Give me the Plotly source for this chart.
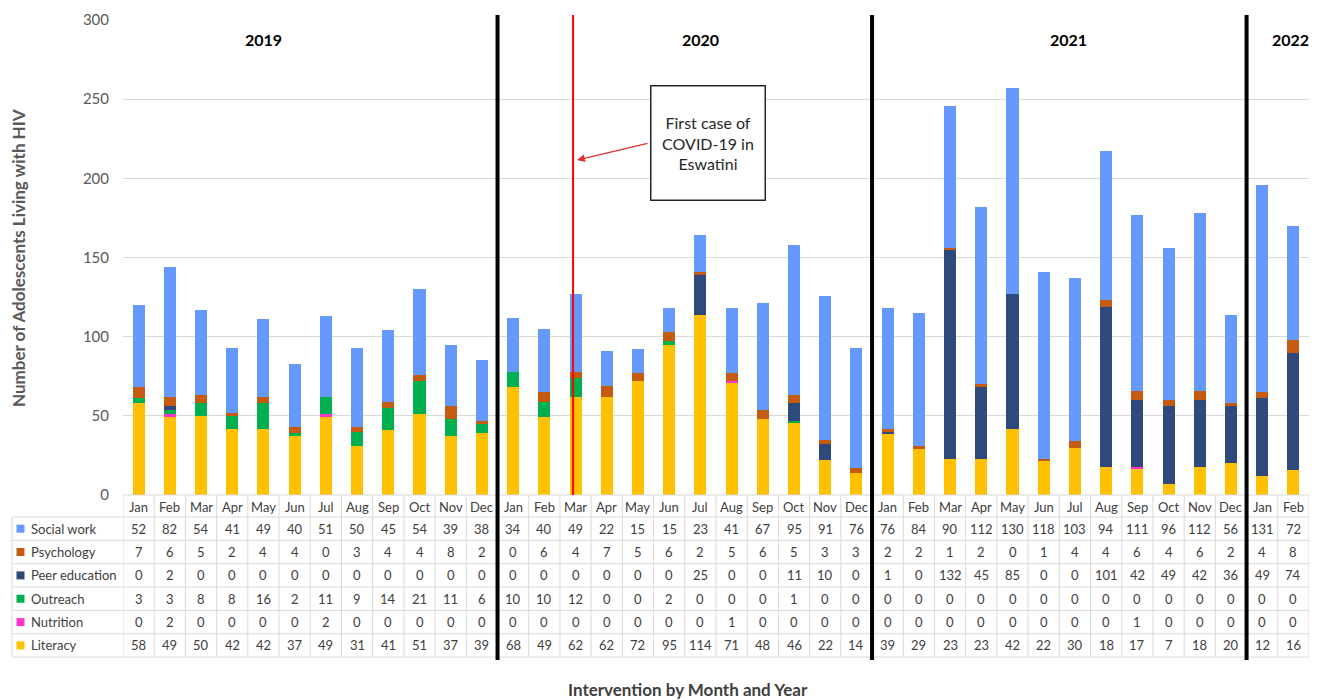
import plotly.graph_objects as go

# ---- data -------------------------------------------------------------
month_labels = (["Jan", "Feb", "Mar", "Apr", "May", "Jun",
                 "Jul", "Aug", "Sep", "Oct", "Nov", "Dec"] * 3 + ["Jan", "Feb"])
years = ["2019", "2020", "2021", "2022"]

social_work = [52, 82, 54, 41, 49, 40, 51, 50, 45, 54, 39, 38,
               34, 40, 49, 22, 15, 15, 23, 41, 67, 95, 91, 76,
               76, 84, 90, 112, 130, 118, 103, 94, 111, 96, 112, 56,
               131, 72]
psychology = [7, 6, 5, 2, 4, 4, 0, 3, 4, 4, 8, 2,
              0, 6, 4, 7, 5, 6, 2, 5, 6, 5, 3, 3,
              2, 2, 1, 2, 0, 1, 4, 4, 6, 4, 6, 2,
              4, 8]
peer_education = [0, 2, 0, 0, 0, 0, 0, 0, 0, 0, 0, 0,
                  0, 0, 0, 0, 0, 0, 25, 0, 0, 11, 10, 0,
                  1, 0, 132, 45, 85, 0, 0, 101, 42, 49, 42, 36,
                  49, 74]
outreach = [3, 3, 8, 8, 16, 2, 11, 9, 14, 21, 11, 6,
            10, 10, 12, 0, 0, 2, 0, 0, 0, 1, 0, 0,
            0, 0, 0, 0, 0, 0, 0, 0, 0, 0, 0, 0,
            0, 0]
nutrition = [0, 2, 0, 0, 0, 0, 2, 0, 0, 0, 0, 0,
             0, 0, 0, 0, 0, 0, 0, 1, 0, 0, 0, 0,
             0, 0, 0, 0, 0, 0, 0, 0, 1, 0, 0, 0,
             0, 0]
literacy = [58, 49, 50, 42, 42, 37, 49, 31, 41, 51, 37, 39,
            68, 49, 62, 62, 72, 95, 114, 71, 48, 46, 22, 14,
            39, 29, 23, 23, 42, 22, 30, 18, 17, 7, 18, 20,
            12, 16]

# stacking order, bottom to top
series = [
    ("Literacy", literacy, "#FFC000"),
    ("Nutrition", nutrition, "#FF33CC"),
    ("Outreach", outreach, "#00B050"),
    ("Peer education", peer_education, "#2E4A7D"),
    ("Psychology", psychology, "#C55A11"),
    ("Social work", social_work, "#6699FF"),
]

FONT = "Lato, 'Open Sans', sans-serif"
TXT = "#404040"
GRID = "#D9D9D9"

# ---- figure geometry (pixels) -----------------------------------------
W, H = 1320, 700
PL, PR, PT, PB = 123, 11, 20, 205          # plot area margins
plot_h = H - PT - PB


def py(px):
    """pixel row -> paper y"""
    return (H - PB - px) / plot_h


def pxp(px):
    """pixel column -> paper x"""
    return (px - PL) / (W - PL - PR)


n = len(month_labels)
xs = list(range(n))

fig = go.Figure()
for name, vals, col in series:
    fig.add_trace(go.Bar(x=xs, y=vals, name=name, marker_color=col,
                         marker_line_width=0, showlegend=False))

shapes = []
annotations = []


def label(**kw):
    kw.setdefault("showarrow", False)
    kw.setdefault("xanchor", "center")
    kw.setdefault("yanchor", "middle")
    annotations.append(kw)


# ---- data table below the plot -----------------------------------------
table_top = H - PB            # 495
header_bot = 517
row_h = 23.35
rows_order = [("Social work", social_work, "#6699FF"),
              ("Psychology", psychology, "#C55A11"),
              ("Peer education", peer_education, "#2E4A7D"),
              ("Outreach", outreach, "#00B050"),
              ("Nutrition", nutrition, "#FF33CC"),
              ("Literacy", literacy, "#FFC000")]
table_bot = header_bot + row_h * len(rows_order)

# horizontal rules
shapes.append(dict(type="line", xref="x", yref="paper", x0=-0.5, x1=n - 0.5,
                   y0=py(table_top), y1=py(table_top),
                   line=dict(color=GRID, width=1)))
for r in range(len(rows_order) + 1):
    yy = py(header_bot + r * row_h)
    shapes.append(dict(type="line", xref="paper", yref="paper",
                       x0=pxp(12), x1=1, y0=yy, y1=yy,
                       line=dict(color=GRID, width=1)))
# vertical rules
for k in range(n + 1):
    shapes.append(dict(type="line", xref="x", yref="paper",
                       x0=k - 0.5, x1=k - 0.5,
                       y0=py(table_top), y1=py(table_bot),
                       line=dict(color=GRID, width=1)))
shapes.append(dict(type="line", xref="paper", yref="paper",
                   x0=pxp(12), x1=pxp(12), y0=py(header_bot), y1=py(table_bot),
                   line=dict(color=GRID, width=1)))

# header month labels
for i, m in enumerate(month_labels):
    label(x=i, y=py((table_top + header_bot) / 2 + 1), xref="x", yref="paper",
          text=m, font=dict(family=FONT, size=13, color=TXT))

# rows
for r, (name, vals, col) in enumerate(rows_order):
    yc = header_bot + row_h * (r + 0.5)
    shapes.append(dict(type="rect", xref="paper", yref="paper",
                       x0=pxp(16.5), x1=pxp(24.5),
                       y0=py(yc - 4), y1=py(yc + 4),
                       fillcolor=col, line=dict(width=0)))
    label(x=pxp(29), y=py(yc), xref="paper", yref="paper", text=name,
          xanchor="left", font=dict(family=FONT, size=13, color=TXT))
    for i, v in enumerate(vals):
        label(x=i, y=py(yc), xref="x", yref="paper", text=str(v),
              font=dict(family=FONT, size=13, color=TXT))

# ---- year separators ----------------------------------------------------
for b in (11.5, 23.5, 35.5):
    shapes.append(dict(type="line", xref="x", yref="paper", x0=b, x1=b,
                       y0=py(table_bot + 3), y1=py(15),
                       line=dict(color="black", width=4)))

year_pos = [(years[0], 4.0), (years[1], 18.0), (years[2], 29.8), (years[3], 36.9)]
for text, xp in year_pos:
    label(x=xp, y=py(39), xref="x", yref="paper", text=f"<b>{text}</b>",
          font=dict(family=FONT, size=16, color="black"))

# ---- COVID-19 marker -------------------------------------------------------
covid_x = 13.92
shapes.append(dict(type="line", xref="x", yref="paper", x0=covid_x, x1=covid_x,
                   y0=0, y1=py(15), line=dict(color="#FF0000", width=2)))


def yval(px):
    return (H - PB - px) * 300 / plot_h


def xval(px):
    return (px - PL) / ((W - PL - PR) / n) - 0.5


label(x=xval(708), y=yval(143), xref="x", yref="y",
      text="First case of<br>COVID-19 in<br>Eswatini",
      width=111, height=111, bordercolor="#262626", borderwidth=1.5,
      bgcolor="white", align="center", valign="middle",
      font=dict(family=FONT, size=16, color="#262626"))
annotations.append(dict(x=xval(577), y=yval(160), xref="x", yref="y",
                        ax=xval(649), ay=yval(143), axref="x", ayref="y",
                        text="", showarrow=True, arrowhead=2, arrowsize=1.2,
                        arrowwidth=1.3, arrowcolor="#E03030"))

# ---- axis titles -------------------------------------------------------------
label(x=pxp(18), y=py(258), xref="paper", yref="paper",
      text="<b>Number of Adolescents Living with HIV</b>", textangle=-90,
      font=dict(family=FONT, size=17, color="#595959"))
label(x=pxp(688), y=py(689), xref="paper", yref="paper",
      text="<b>Intervention by Month and Year</b>",
      font=dict(family=FONT, size=17, color=TXT))

fig.update_layout(
    width=W, height=H,
    margin=dict(l=PL, r=PR, t=PT, b=PB),
    paper_bgcolor="white", plot_bgcolor="white",
    barmode="stack", bargap=0.615,
    shapes=shapes, annotations=annotations,
    xaxis=dict(range=[-0.5, n - 0.5], showticklabels=False, showgrid=False,
               zeroline=False, showline=False, fixedrange=True),
    yaxis=dict(range=[0, 300], dtick=50, showgrid=True, gridcolor=GRID,
               gridwidth=1, zeroline=False, showline=False,
               tickfont=dict(family=FONT, size=15, color="#595959"),
               ticklabelstandoff=13, fixedrange=True),
    font=dict(family=FONT),
)

fig.write_html("out.html")
